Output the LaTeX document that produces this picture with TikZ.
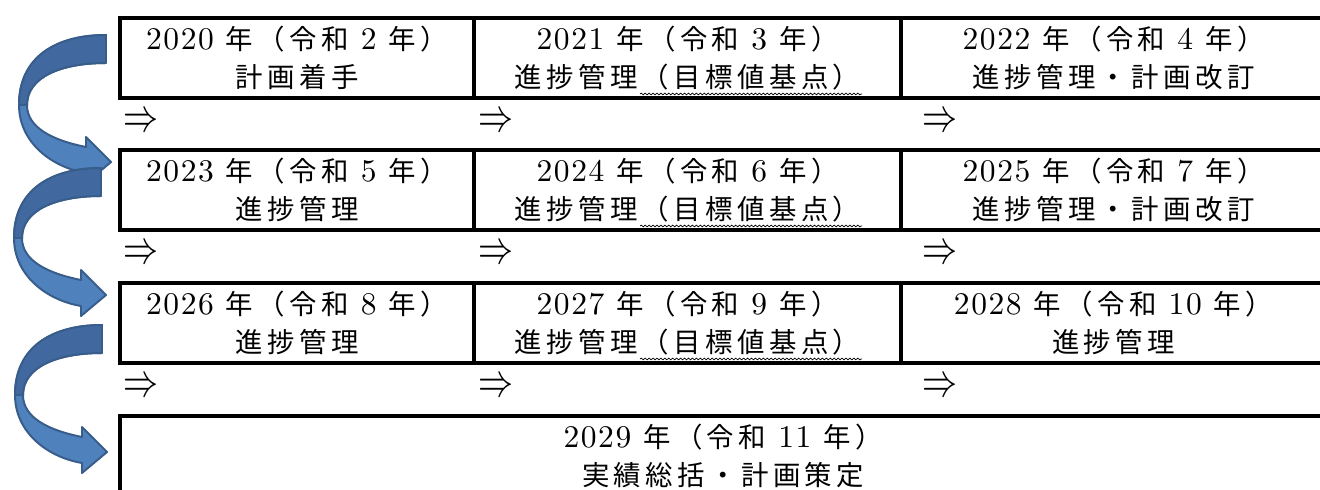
\documentclass[tikz,border=0pt]{standalone}
\usepackage{fontspec}
\setmainfont{lmroman10-regular.otf}[Scale=1.15,LetterSpace=5]
\newfontfamily\jp{Noto Sans CJK JP}[LetterSpace=16]
\usepackage{graphicx}
\usetikzlibrary{calc,decorations.pathmorphing}
\definecolor{arrowlight}{RGB}{79,129,189}
\definecolor{arrowdark}{RGB}{65,105,160}
\definecolor{arrowline}{RGB}{56,93,138}

\begin{document}
\begin{tikzpicture}[x=0.025cm,y=-0.025cm,
  cell/.style={draw,line width=2.8pt,inner sep=0pt,anchor=north west,minimum height=2cm,align=center,font=\fontsize{19.5}{27}\selectfont},
  then/.style={anchor=west,inner sep=0pt,font=\fontsize{24}{24}\selectfont},
  wavy/.style={decorate,decoration={snake,segment length=2.8pt,amplitude=0.6pt},line width=0.5pt}]
\useasboundingbox (0,0) rectangle (1320,489);
\clip (0,0) rectangle (1320,489);

% first row
\node[cell,minimum width=8.85cm] (y2020) at (118,16) {2020 {\jp 年（令和} 2 {\jp 年）}\\{\jp 計画着手}};
\node[cell,minimum width=10.675cm] (y2021) at (472,16) {2021 {\jp 年（令和} 3 {\jp 年）}\\{\jp 進捗管理（目標値基点）}};
\node[cell,minimum width=10.625cm] (y2022) at (899,16) {2022 {\jp 年（令和} 4 {\jp 年）}\\{\jp 進捗管理・計画改訂}};

% second row
\node[cell,minimum width=8.85cm] (y2023) at (118,148) {2023 {\jp 年（令和} 5 {\jp 年）}\\{\jp 進捗管理}};
\node[cell,minimum width=10.675cm] (y2024) at (472,148) {2024 {\jp 年（令和} 6 {\jp 年）}\\{\jp 進捗管理（目標値基点）}};
\node[cell,minimum width=10.625cm] (y2025) at (899,148) {2025 {\jp 年（令和} 7 {\jp 年）}\\{\jp 進捗管理・計画改訂}};

% third row
\node[cell,minimum width=8.85cm] (y2026) at (118,281) {2026 {\jp 年（令和} 8 {\jp 年）}\\{\jp 進捗管理}};
\node[cell,minimum width=10.675cm] (y2027) at (472,281) {2027 {\jp 年（令和} 9 {\jp 年）}\\{\jp 進捗管理（目標値基点）}};
\node[cell,minimum width=10.625cm] (y2028) at (899,281) {2028 {\jp 年（令和} 10 {\jp 年）}\\{\jp 進捗管理}};

% last row
\node[cell,minimum width=30.15cm] (y2029) at (118,414) {2029 {\jp 年（令和} 11 {\jp 年）}\\{\jp 実績総括・計画策定}};

% arrows between rows
\node[then] (t1) at (123,123) {\scalebox{1}[1.35]{$\Rightarrow$}};
\node[then] (t2) at (478,123) {\scalebox{1}[1.35]{$\Rightarrow$}};
\node[then] (t3) at (922,123) {\scalebox{1}[1.35]{$\Rightarrow$}};
\node[then] (t4) at (123,255) {\scalebox{1}[1.35]{$\Rightarrow$}};
\node[then] (t5) at (478,255) {\scalebox{1}[1.35]{$\Rightarrow$}};
\node[then] (t6) at (922,255) {\scalebox{1}[1.35]{$\Rightarrow$}};
\node[then] (t7) at (123,388) {\scalebox{1}[1.35]{$\Rightarrow$}};
\node[then] (t8) at (478,388) {\scalebox{1}[1.35]{$\Rightarrow$}};
\node[then] (t9) at (922,388) {\scalebox{1}[1.35]{$\Rightarrow$}};

% wavy underlines
\draw[wavy] ($(y2021.south west)+(168,-6)$) -- ($(y2021.south west)+(390,-6)$);
\draw[wavy] ($(y2024.south west)+(168,-6)$) -- ($(y2024.south west)+(390,-6)$);
\draw[wavy] ($(y2027.south west)+(168,-6)$) -- ($(y2027.south west)+(390,-6)$);

% curved arrows on the left
\foreach \tx/\ty in {111/162,106/295,107/452}{
\begin{scope}[shift={(\tx,\ty)}]
\filldraw[fill=arrowlight,draw=arrowline,line width=1.4pt,line join=round]
  (-5,-127) .. controls (-55,-127) and (-92,-105) .. (-92,-57)
  .. controls (-92,-20) and (-60,5) .. (-25,11)
  -- (-25,21) -- (0,0) -- (-25,-25) -- (-25,-15)
  .. controls (-60,-22) and (-84,-35) .. (-84,-57)
  .. controls (-84,-85) and (-50,-99) .. (-5,-99) -- cycle;
\filldraw[fill=arrowdark,draw=arrowline,line width=1.4pt,line join=round]
  (-5,-127) .. controls (-55,-127) and (-92,-105) .. (-92,-57)
  -- (-84,-57) .. controls (-84,-85) and (-50,-99) .. (-5,-99) -- cycle;
\end{scope}
}
\end{tikzpicture}
\end{document}
